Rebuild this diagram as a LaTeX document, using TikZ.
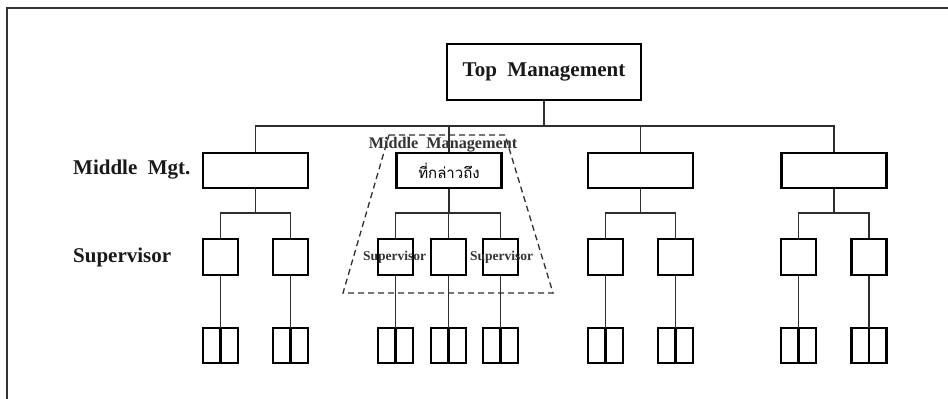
\documentclass[tikz,border=0pt]{standalone}
\usepackage{fontspec}
\setmainfont{Liberation Serif}
\newfontfamily\thaifont[Script=Thai]{Loma}
\definecolor{framegray}{HTML}{333333}
\definecolor{linegray}{HTML}{2E2E2E}
\definecolor{textgray}{HTML}{333333}
\begin{document}
\begin{tikzpicture}[x=1pt,y=-1pt,
  box/.style={draw=black,line width=2.7pt,inner sep=0pt,outer sep=0pt,fill=white},
  bigbox/.style={box,minimum width=194pt,minimum height=56pt},
  midbox/.style={box,minimum width=105pt,minimum height=35pt},
  supbox/.style={box,minimum width=35pt,minimum height=36pt},
  botbox/.style={box,minimum width=35pt,minimum height=35pt},
  conn/.style={draw=linegray,line width=1.5pt},
  lbl/.style={font=\fontsize{21}{24}\selectfont\bfseries,text=black!90,inner sep=0pt},
  smlbl/.style={font=\fontsize{13.5}{15}\selectfont\bfseries,text=textgray,inner sep=0pt},
  mmlbl/.style={font=\fontsize{16.2}{18}\selectfont\bfseries,text=textgray,inner sep=0pt}]
\useasboundingbox (0,0) rectangle (948,399);
% frame
\draw[framegray,line width=2.5pt] (7,399) -- (7,8) -- (948,8);

\coordinate (bus) at (0,126);
\coordinate (sbus) at (0,213);

% top
\node[bigbox] (top) at (544,72) {};
\node[lbl] (toptxt) at (544,72) {Top\ \ Management};

% middle boxes
\node[midbox] (m1) at (255.5,170.5) {};
\node[midbox] (m2) at (449,170.5) {};
\node[midbox] (m3) at (640.5,170.5) {};
\node[midbox] (m4) at (834,170.5) {};

% supervisors
\foreach \n/\x in {s1/220.5,s2/290.5,s3/395.5,s4/448.5,s5/500.5,s6/605.5,s7/675.5,s8/798.5,s9/869}{
  \node[supbox] (\n) at (\x,257) {};
  \node[botbox] (b\n) at (\x,345.5) {};
  \draw[line width=2.7pt] (b\n.north) -- (b\n.south);
  \draw[conn] (\n.south) -- (b\n.north);
}

% top bus
\draw[conn] (top.south) -- (top.south |- bus);
\draw[conn] (m1.north) -- (m1.north |- bus) -- (m4.north |- bus) -- (m4.north);
\draw[conn] (m2.north) -- (m2.north |- bus);
\draw[conn] (m3.north) -- (m3.north |- bus);

% group buses
\draw[conn] (m1.south) -- (m1.south |- sbus);
\draw[conn] (s1.north) -- (s1.north |- sbus) -- (s2.north |- sbus) -- (s2.north);
\draw[conn] (m2.south) -- (m2.south |- sbus);
\draw[conn] (s3.north) -- (s3.north |- sbus) -- (s5.north |- sbus) -- (s5.north);
\draw[conn] (s4.north) -- (s4.north |- sbus);
\draw[conn] (m3.south) -- (m3.south |- sbus);
\draw[conn] (s6.north) -- (s6.north |- sbus) -- (s7.north |- sbus) -- (s7.north);
\draw[conn] (m4.south) -- (m4.south |- sbus);
\draw[conn] (s8.north) -- (s8.north |- sbus) -- (s9.north |- sbus) -- (s9.north);

% redraw box borders over connectors
\foreach \n in {m1,m2,m3,m4,s1,s2,s3,s4,s5,s6,s7,s8,s9,top}{\draw[line width=2.7pt] (\n.north west) rectangle (\n.south east);}

% dashed trapezoid
\draw[linegray,line width=1.3pt,dash pattern=on 6pt off 4pt] (389,135) -- (505,135) -- (553,293) -- (343,293) -- cycle;

% labels
\node[lbl,anchor=west] (mlbl) at (73,170) {Middle\ \ Mgt.};
\node[lbl,anchor=west] (slbl) at (73,257) {Supervisor};
\node[mmlbl] (mmtxt) at (443,145) {Middle\ \ Management};
\node[font=\thaifont\fontsize{15}{17}\selectfont,inner sep=0pt] (thai) at (449,171) {ที่กล่าวถึง};
\node[smlbl] (sv1) at (394.5,257) {Supervisor};
\node[smlbl] (sv2) at (501.5,257) {Supervisor};
\end{tikzpicture}
\end{document}
